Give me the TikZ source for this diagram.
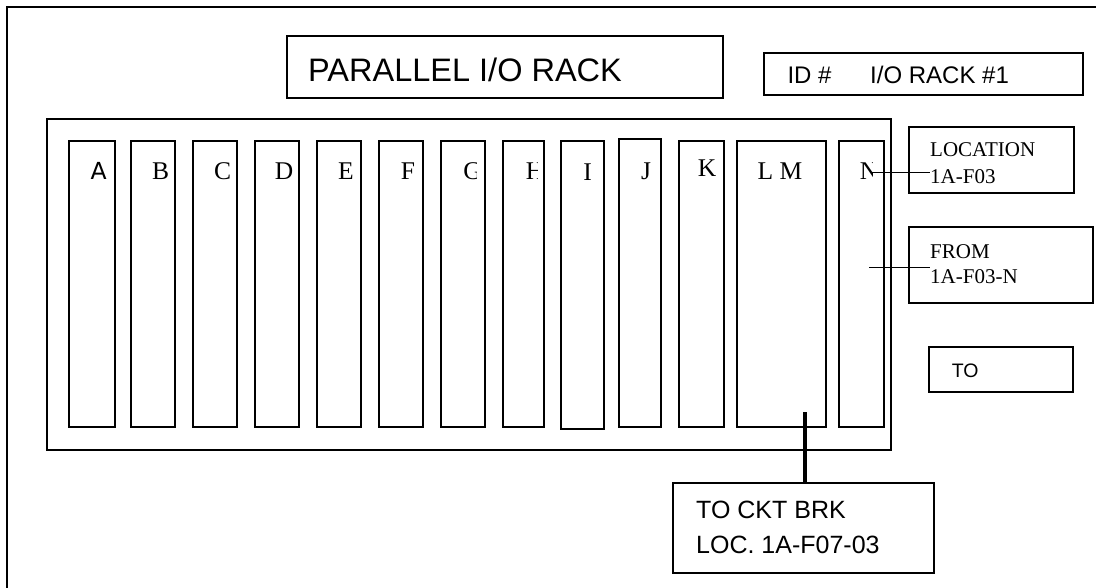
\documentclass[tikz,border=0pt]{standalone}
\usepackage{fontspec}
\setmainfont{Liberation Serif}
\setsansfont{Liberation Sans}
\newfontfamily\dvsans{DejaVu Sans}
\begin{document}
\begin{tikzpicture}[x=1pt,y=-1pt,
  box/.style={draw=black,line width=1.8pt,inner sep=0pt,outer sep=0pt,minimum width=#1},
  slotbox/.style={draw=black,line width=1.8pt,inner sep=0pt,outer sep=0pt,minimum width=#1,minimum height=286pt},
  lett/.style={inner sep=0pt,anchor=base,font=\fontsize{25.5}{30}\selectfont},
  stxt/.style={inner sep=0pt,anchor=base west,font=\fontsize{21}{25}\selectfont},
  atxt/.style={inner sep=0pt,anchor=base west,font=\sffamily\fontsize{#1}{#1}\selectfont},
  wire/.style={draw=black,line width=1.5pt}]
\useasboundingbox (0,0) rectangle (1096,587);
% outer frame (cut by page edges)
\draw[line width=2.2pt] (7,588) -- (7,7) -- (1097,7);
% header boxes
\node[box=436.6pt,minimum height=62pt] (title) at (505,66.7) {};
\node[atxt=32.5] (titletxt) at (308,81) {PARALLEL I/O RACK};
\node[box=319.3pt,minimum height=42pt] (idbox) at (923.7,74.3) {};
\node[atxt=24] (idlab) at (787.3,83.6) {ID \#};
\node[atxt=24] (idval) at (870,83.6) {I/O RACK \#1};
% rack
\node[box=844pt,minimum height=331pt] (rack) at (469,284.5) {};
\node[slotbox=46pt] (sA) at (92,284) {};
\node[slotbox=44.6pt] (sB) at (153,284) {};
\node[slotbox=44.3pt] (sC) at (215.2,284) {};
\node[slotbox=44.6pt] (sD) at (277,284) {};
\node[slotbox=44.3pt] (sE) at (339.2,284) {};
\node[slotbox=44.3pt] (sF) at (401.2,284) {};
\node[slotbox=44.3pt] (sG) at (463.2,284) {};
\node[slotbox=41pt] (sH) at (523.2,284) {};
\node[slotbox=42.7pt,minimum height=288pt] (sI) at (582.3,285.3) {};
\node[slotbox=42.3pt,minimum height=288pt] (sJ) at (640.2,283.3) {};
\node[slotbox=44.7pt] (sK) at (701.3,284) {};
\node[slotbox=88.7pt] (sLM) at (781.3,284) {};
\node[slotbox=44.7pt] (sN) at (861.3,284) {};
% slot letters
\node[lett,font=\dvsans\fontsize{23.5}{28}\selectfont] (lA) at (98.7,179) {A};
\node[lett] (lB) at (160.7,179) {B};
\node[lett] (lC) at (222.7,179) {C};
\node[lett] (lD) at (284,179) {D};
\node[lett] (lE) at (346,179) {E};
\node[lett] (lF) at (408,179) {F};
\begin{scope}
\clip (440,150) rectangle (476,190);
\node[lett] (lG) at (472.5,179) {G};
\end{scope}
\begin{scope}
\clip (505,150) rectangle (537.3,190);
\node[lett] (lH) at (535,179) {H};
\end{scope}
\node[lett] (lI) at (587.7,180.5) {I};
\node[lett] (lJ) at (646,179) {J};
\node[lett] (lK) at (707,176) {K};
\node[lett] (lLM) at (780,179) {L M};
\begin{scope}
\clip (845,150) rectangle (872.3,190);
\node[lett] (lN) at (869,179) {N};
\end{scope}
% LOCATION box
\node[box=164.7pt,minimum height=65.4pt] (locbox) at (991.3,160) {};
\node[stxt] (loc1) at (930,156.5) {LOCATION};
\node[stxt] (loc2) at (930,183) {1A-F03};
% FROM box
\node[box=184pt,minimum height=75.4pt] (frombox) at (1001,265) {};
\node[stxt] (from1) at (930,258.7) {FROM};
\node[stxt] (from2) at (930,283.7) {1A-F03-N};
% TO box
\node[box=144pt,minimum height=44.4pt] (tobox) at (1001,369.5) {};
\node[atxt=19.5] (totxt) at (951.7,377) {TO};
% circuit breaker box
\node[box=261.3pt,minimum height=90pt] (ckt) at (803.3,528.3) {};
\node[atxt=25] (ckt1) at (696,518) {TO CKT BRK};
\node[atxt=25] (ckt2) at (696,553) {LOC. 1A-F07-03};
% connectors
\coordinate (nEnd) at (872,172.5);
\draw[wire] (nEnd) -- (nEnd -| loc2.west);
\coordinate (fStart) at (869,267.3);
\draw[wire] (fStart) -- (fStart -| from2.west);
\coordinate (ckStart) at (805,412);
\draw[line width=4pt] (ckStart) -- (ckStart |- ckt.north);
\end{tikzpicture}
\end{document}
